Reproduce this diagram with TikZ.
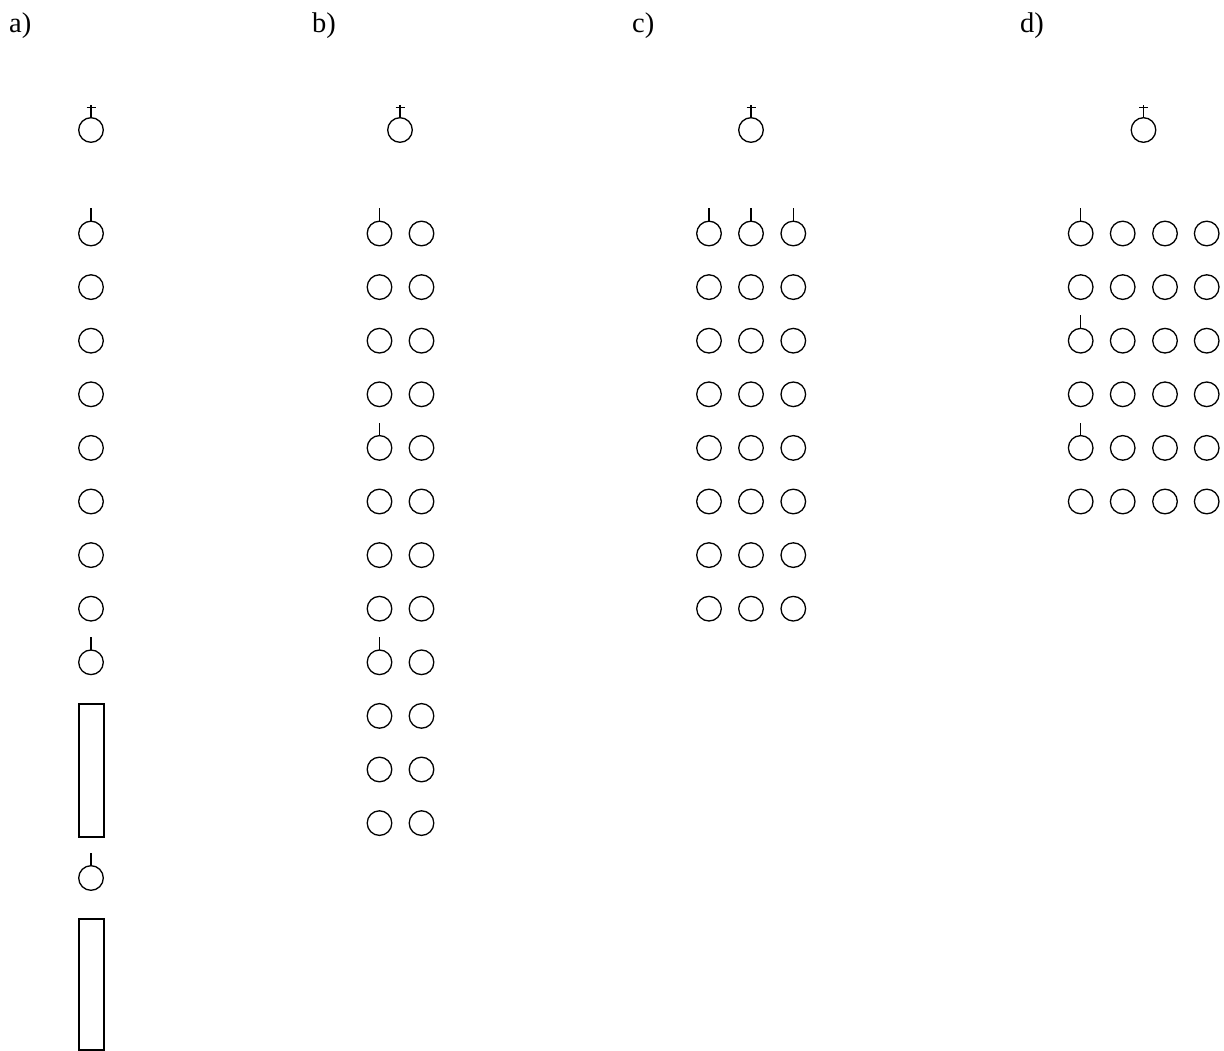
\documentclass[tikz,border=0pt]{standalone}
\usepackage{fontspec}
\setmainfont{Liberation Serif}
\begin{document}
\begin{tikzpicture}[x=1pt,y=-1pt,
  ring/.style={draw,circle,minimum size=24.6pt,inner sep=0pt,outer sep=0pt,line width=1.3pt},
  slab/.style={draw,rectangle,minimum width=25pt,inner sep=0pt,outer sep=0pt,line width=1.3pt},
  stub/.style={line width=1.3pt},
  lab/.style={anchor=base west,inner sep=0pt,font=\fontsize{28.5}{32}\selectfont}]
\useasboundingbox (0,0) rectangle (1224,1051);
% labels
\node[lab] (la) at (9,33) {a)};
\node[lab] (lb) at (312,33) {b)};
\node[lab] (lc) at (632,33) {c)};
\node[lab] (ld) at (1020,33) {d)};
% top plus circles
\foreach \n/\x in {a/91,b/400,c/751,d/1143.5}{
  \node[ring] (\n-top) at (\x,130) {};
  \draw[stub] (\n-top.north) -- ++(0,-13);
  \draw[stub] ([shift={(-4.5,-10)}]\n-top.north) -- ++(9,0);
}
% a) column
\foreach \k in {0,...,8}{
  \node[ring] (a-\k) at (91,{233.5+53.6*\k}) {};
}
\draw[stub] (a-0.north) -- ++(0,-13);
\draw[stub] (a-8.north) -- ++(0,-13);
\node[slab,minimum height=133pt] (a-r1) at (91.5,770.5) {};
\node[ring] (a-9) at (91,878) {};
\draw[stub] (a-9.north) -- ++(0,-13);
\node[slab,minimum height=131pt] (a-r2) at (91.5,984.5) {};
% b) columns
\foreach \k in {0,...,11}{
  \node[ring] (b-\k-1) at (379.5,{233.5+53.6*\k}) {};
  \node[ring] (b-\k-2) at (421.5,{233.5+53.6*\k}) {};
}
\foreach \k in {0,4,8}{\draw[stub] (b-\k-1.north) -- ++(0,-13);}
% c) columns
\foreach \k in {0,...,7}{
  \foreach \c/\x in {1/709,2/751,3/793.3}{
    \node[ring] (c-\k-\c) at (\x,{233.5+53.6*\k}) {};
  }
}
\foreach \c in {1,2,3}{\draw[stub] (c-0-\c.north) -- ++(0,-13);}
% d) columns
\foreach \k in {0,...,5}{
  \foreach \c/\x in {1/1080.7,2/1122.7,3/1165,4/1206.7}{
    \node[ring] (d-\k-\c) at (\x,{233.5+53.6*\k}) {};
  }
}
\foreach \k in {0,2,4}{\draw[stub] (d-\k-1.north) -- ++(0,-13);}
\end{tikzpicture}
\end{document}
